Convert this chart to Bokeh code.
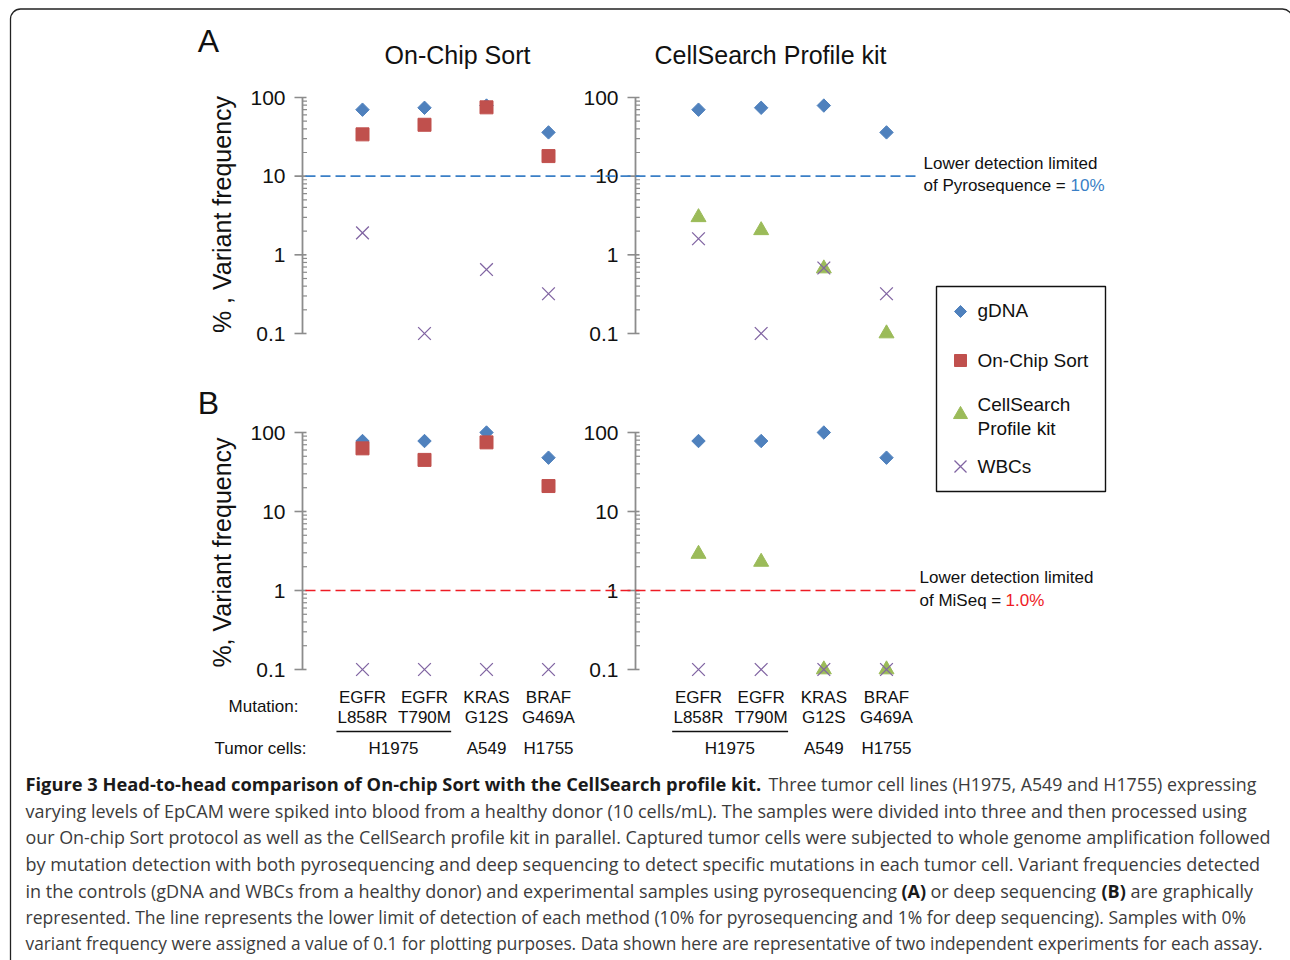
import numpy as np
from bokeh.plotting import figure
from bokeh.models import Range1d, LogScale
from bokeh.core.properties import value
from bokeh.embed import file_html
from bokeh.resources import INLINE

# ---------------- data ----------------
genes = ["EGFR", "EGFR", "KRAS", "BRAF"]
mutations = ["L858R", "T790M", "G12S", "G469A"]
cat_idx = [1, 2, 3, 4]
tumor_cells = ["H1975", "A549", "H1755"]
tumor_pos = [1.5, 3, 4]

# Panel A (pyrosequencing)
a_gdna = [70, 74, 79, 36]
a_onchip = [34, 45, 75, 18]
a_onchip_wbc = [1.9, 0.1, 0.65, 0.32]
a_cellsearch = [3.0, 2.05, 0.67, 0.1]
a_cellsearch_wbc = [1.6, 0.1, 0.68, 0.32]
# Panel B (deep sequencing)
b_gdna = [78, 78, 100, 48]
b_onchip = [63, 45, 75, 21]
b_onchip_wbc = [0.1, 0.1, 0.1, 0.1]
b_cellsearch = [2.9, 2.3, 0.1, 0.1]
b_cellsearch_wbc = [0.1, 0.1, 0.1, 0.1]

major_ticks = [0.1, 1, 10, 100]
tick_labels = ["0.1", "1", "10", "100"]
minor_ticks = [m * d for d in (0.1, 1, 10) for m in range(2, 10)]
pyro_limit = 10
miseq_limit = 1

# ---------------- style ----------------
BLUE = "#4F81BD"
RED = "#C0504D"
GREEN = "#9BBB59"
PURPLE = "#8064A2"
AXC = "#8c8c8c"
PYRO_C = "#3a7fc6"
MISEQ_C = "#ee1c25"
FONT = "Liberation Sans"
CFONT = "Open Sans"
TXT = "#111111"
CAP_C = "#3c3c3c"

W, H = 1290, 960
p = figure(width=W, height=H, x_range=Range1d(0, W), y_range=Range1d(H, 0),
           output_backend="svg", toolbar_location=None,
           x_axis_type=None, y_axis_type=None, min_border=0)
p.outline_line_color = None
p.background_fill_color = "white"
p.border_fill_color = "white"

# geometry (page pixels)
ROW_A = (333, 97)      # pixel y of 0.1 and of 100
ROW_B = (669, 432)
L_AX, R_AX = 302, 635
L_CATS = (362, 548)    # pixel x of first and last category
R_CATS = (698, 886)


def log_range(y01, y100):
    d = (y01 - y100) / 3.0
    return Range1d(10 ** ((y01 - H) / d - 1), 10 ** (y01 / d - 1))


def cat_range(c1, c4):
    s = (c4 - c1) / 3.0
    return Range1d(1 - c1 / s, 1 + (W - c1) / s)


p.extra_y_ranges = {"A": log_range(*ROW_A), "B": log_range(*ROW_B)}
p.extra_y_scales = {"A": LogScale(), "B": LogScale()}
p.extra_x_ranges = {"L": cat_range(*L_CATS), "R": cat_range(*R_CATS)}


def txt(x, y, s, size, align="left", color=TXT, font=FONT, style="normal", angle=0.0):
    p.text(x=[x], y=[y], text=[s], text_align=align, text_baseline="middle",
           text_font=value(font), text_font_size=size, text_color=color,
           text_font_style=style, angle=angle)


def draw_axis(row, ax):
    n = len(minor_ticks)
    kw = dict(y_range_name=row)
    p.segment(x0=[ax], y0=[0.1], x1=[ax], y1=[100], line_color=AXC, line_width=1.8, **kw)
    p.segment(x0=[ax - 8] * 4, y0=major_ticks, x1=[ax + 4] * 4, y1=major_ticks,
              line_color=AXC, line_width=1.6, **kw)
    p.segment(x0=[ax] * n, y0=minor_ticks, x1=[ax + 4.5] * n, y1=minor_ticks,
              line_color=AXC, line_width=1.2, **kw)
    p.text(x=[ax - 17] * 4, y=major_ticks, text=tick_labels, text_align="right",
           text_baseline="middle", text_font=value(FONT), text_font_size="21px",
           text_color=TXT, **kw)


def draw_points(xr, yr, gdna, method, marker, color, msize, wbc):
    kw = dict(x_range_name=xr, y_range_name=yr)
    p.scatter(cat_idx, gdna, marker="square", angle=np.pi / 4, size=9.5,
              fill_color=BLUE, line_color=BLUE, **kw)
    p.scatter(cat_idx, method, marker=marker, size=msize, fill_color=color, line_color=color, **kw)
    p.scatter(cat_idx, wbc, marker="x", size=18, line_color=PURPLE, line_width=1.3, **kw)


# ---------------- border ----------------
p.quad(left=[10], right=[1292], top=[8.5], bottom=[1000], fill_color=None,
       line_color="#222222", line_width=1.3, border_radius=10)

# ---------------- panels ----------------
for row in ("A", "B"):
    draw_axis(row, L_AX)
    draw_axis(row, R_AX)

draw_points("L", "A", a_gdna, a_onchip, "square", RED, 13, a_onchip_wbc)
draw_points("R", "A", a_gdna, a_cellsearch, "triangle", GREEN, 15, a_cellsearch_wbc)
draw_points("L", "B", b_gdna, b_onchip, "square", RED, 13, b_onchip_wbc)
draw_points("R", "B", b_gdna, b_cellsearch, "triangle", GREEN, 15, b_cellsearch_wbc)

# detection limits
p.segment(x0=[305], y0=[pyro_limit], x1=[918], y1=[pyro_limit], line_color=PYRO_C,
          line_width=1.6, line_dash="10 5", y_range_name="A")
p.segment(x0=[305], y0=[miseq_limit], x1=[918], y1=[miseq_limit], line_color=MISEQ_C,
          line_width=1.6, line_dash="10 5", y_range_name="B")

# ---------------- titles / labels ----------------
txt(208, 40, "A", "32px", align="center")
txt(208, 402, "B", "32px", align="center")
txt(457, 54, "On-Chip Sort", "25px", align="center")
txt(770, 54, "CellSearch Profile kit", "25px", align="center")
txt(221, 214, "% , Variant frequency", "25px", align="center", angle=np.pi / 2)
txt(221, 552, "%, Variant frequency", "25px", align="center", angle=np.pi / 2)

txt(923, 163, "Lower detection limited", "17px")
txt(923, 185, "of Pyrosequence = ", "17px")
txt(1070, 185, "10%", "17px", color=PYRO_C)
txt(919, 577, "Lower detection limited", "17px")
txt(919, 600, "of MiSeq = ", "17px")
txt(1005, 600, "1.0%", "17px", color=MISEQ_C)

# category labels
txt(298, 706, "Mutation:", "17px", align="right")
txt(306, 748, "Tumor cells:", "17px", align="right")
for xr in ("L", "R"):
    kw = dict(x_range_name=xr, text_baseline="middle", text_align="center",
              text_font=value(FONT), text_font_size="17px", text_color=TXT)
    p.text(x=cat_idx, y=[697] * 4, text=genes, **kw)
    p.text(x=cat_idx, y=[717] * 4, text=mutations, **kw)
    p.text(x=tumor_pos, y=[748] * 3, text=tumor_cells, **kw)
    p.segment(x0=[0.58], y0=[731], x1=[2.43], y1=[731], line_color="#111111",
              line_width=1.5, x_range_name=xr)

# ---------------- legend ----------------
p.quad(left=[936], right=[1105], top=[286], bottom=[491], fill_color="white",
       line_color="#111111", line_width=1.4)
p.scatter([960], [311], marker="square", angle=np.pi / 4, size=8.5, fill_color=BLUE, line_color=BLUE)
p.scatter([960], [360], marker="square", size=12, fill_color=RED, line_color=RED)
p.scatter([960], [414], marker="triangle", size=14, fill_color=GREEN, line_color=GREEN)
p.scatter([960], [466], marker="x", size=17, line_color=PURPLE, line_width=1.3)
txt(977, 310, "gDNA", "19px")
txt(977, 360, "On-Chip Sort", "19px")
txt(977, 404, "CellSearch", "19px")
txt(977, 428, "Profile kit", "19px")
txt(977, 466, "WBCs", "19px")

# ---------------- caption ----------------
BOLD_C = "#1a1a1a"
txt(25, 783, "Figure 3 Head-to-head comparison of On-chip Sort with the CellSearch profile kit.", "18.3px",
    font=CFONT, style="bold", color=BOLD_C)
txt(768, 783, "Three tumor cell lines (H1975, A549 and H1755) expressing", "17.8px", font=CFONT, color=CAP_C)
cap_lines = [
    "varying levels of EpCAM were spiked into blood from a healthy donor (10 cells/mL). The samples were divided into three and then processed using",
    "our On-chip Sort protocol as well as the CellSearch profile kit in parallel. Captured tumor cells were subjected to whole genome amplification followed",
    "by mutation detection with both pyrosequencing and deep sequencing to detect specific mutations in each tumor cell. Variant frequencies detected",
]
cap_y = [810, 836, 863]
cap_sizes = ["18px", "17.9px", "18px"]
for s, y, fs in zip(cap_lines, cap_y, cap_sizes):
    txt(25, y, s, fs, font=CFONT, color=CAP_C)
txt(25, 890, "in the controls (gDNA and WBCs from a healthy donor) and experimental samples using pyrosequencing",
    "18px", font=CFONT, color=CAP_C)
txt(901, 890, "(A)", "18px", font=CFONT, style="bold", color=BOLD_C)
txt(930, 890, "or deep sequencing", "18px", font=CFONT, color=CAP_C)
txt(1101, 890, "(B)", "18px", font=CFONT, style="bold", color=BOLD_C)
txt(1130, 890, "are graphically", "18px", font=CFONT, color=CAP_C)
txt(25, 916, "represented. The line represents the lower limit of detection of each method (10% for pyrosequencing and 1% for deep sequencing). Samples with 0%",
    "17.55px", font=CFONT, color=CAP_C)
txt(25, 943, "variant frequency were assigned a value of 0.1 for plotting purposes. Data shown here are representative of two independent experiments for each assay.",
    "17.3px", font=CFONT, color=CAP_C)

open("out.html", "w").write(file_html(p, INLINE))
